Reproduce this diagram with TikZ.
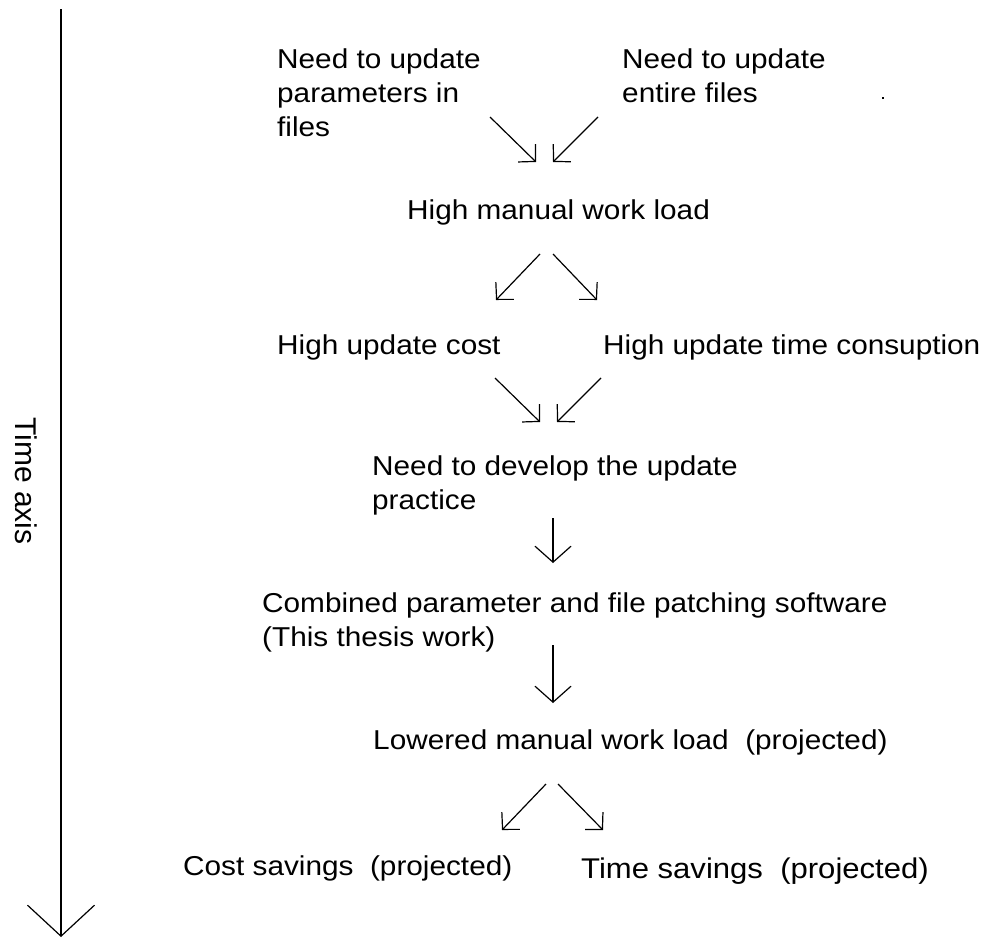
\documentclass[tikz,border=0pt]{standalone}
\usepackage{fontspec}
\setmainfont{Liberation Sans}[FakeStretch=1.09]
\newfontfamily\axisfont{Liberation Sans}
\usetikzlibrary{arrows.meta}
\begin{document}
\begin{tikzpicture}[x=1pt,y=-1pt,
  txt/.style={anchor=base west, inner sep=0pt, align=left,
    font=\fontsize{27.3}{34}\selectfont},
  slant/.style={line width=1.2pt,
    -{Straight Barb[length=12pt,width=25pt,line width=1.2pt]}},
  down/.style={line width=1.2pt,
    -{Straight Barb[length=16pt,width=36pt,line width=1.2pt]}},
  axis/.style={line width=1.2pt,
    -{Straight Barb[length=31pt,width=67pt,line width=1.2pt]}}]
\useasboundingbox (0,0) rectangle (985,937);

% time axis
\coordinate (axtop) at (61,9);
\coordinate (axend) at (61,937);
\draw[axis] (axtop) -- (axend);
\node[rotate=-90, anchor=base, inner sep=0pt,
  font=\axisfont\fontsize{30}{34}\selectfont] (axlabel) at (15,481) {Time axis};

% statements (multi-line nodes are placed by their last baseline)
\node[txt] (par)  at (277,136) {Need to update\\parameters in\\files};
\node[txt] (ent)  at (622,102) {Need to update\\entire files};
\node[txt] (load) at (407,219) {High manual work load};
\node[txt] (cost) at (277,354) {High update cost};
\node[txt] (time) at (603,354) {High update time consuption};
\node[txt] (need) at (372,509) {Need to develop the update\\practice};
\node[txt] (soft) at (262,646) {Combined parameter and file patching software\\(This thesis work)};
\node[txt] (low)  at (373,749) {Lowered manual work load~~(projected)};
\node[txt] (cs)   at (183,875) {Cost savings~~(projected)};
\node[txt, font=\fontsize{28.5}{34}\selectfont] (ts) at (581,878) {Time savings~~(projected)};
\fill (882,97) rectangle (884,99);

% arrow end points
\coordinate (a1s) at (490,117); \coordinate (a1e) at (536,162);
\coordinate (a2s) at (598,117); \coordinate (a2e) at (553,162);
\coordinate (b1s) at (540,254); \coordinate (b1e) at (496,300);
\coordinate (b2s) at (553,254); \coordinate (b2e) at (597,300);
\coordinate (c1s) at (495,378); \coordinate (c1e) at (540,422);
\coordinate (c2s) at (601,378); \coordinate (c2e) at (557,422);
\coordinate (ds)  at (553,518); \coordinate (de)  at (553,563);
\coordinate (es)  at (553,645); \coordinate (ee)  at (553,703);
\coordinate (f1s) at (546,784); \coordinate (f1e) at (502,830);
\coordinate (f2s) at (558,784); \coordinate (f2e) at (603,830);

\draw[slant] (a1s) -- (a1e);
\draw[slant] (a2s) -- (a2e);
\draw[slant] (b1s) -- (b1e);
\draw[slant] (b2s) -- (b2e);
\draw[slant] (c1s) -- (c1e);
\draw[slant] (c2s) -- (c2e);
\draw[down]  (ds) -- (de);
\draw[down]  (es) -- (ee);
\draw[slant] (f1s) -- (f1e);
\draw[slant] (f2s) -- (f2e);
\end{tikzpicture}
\end{document}
